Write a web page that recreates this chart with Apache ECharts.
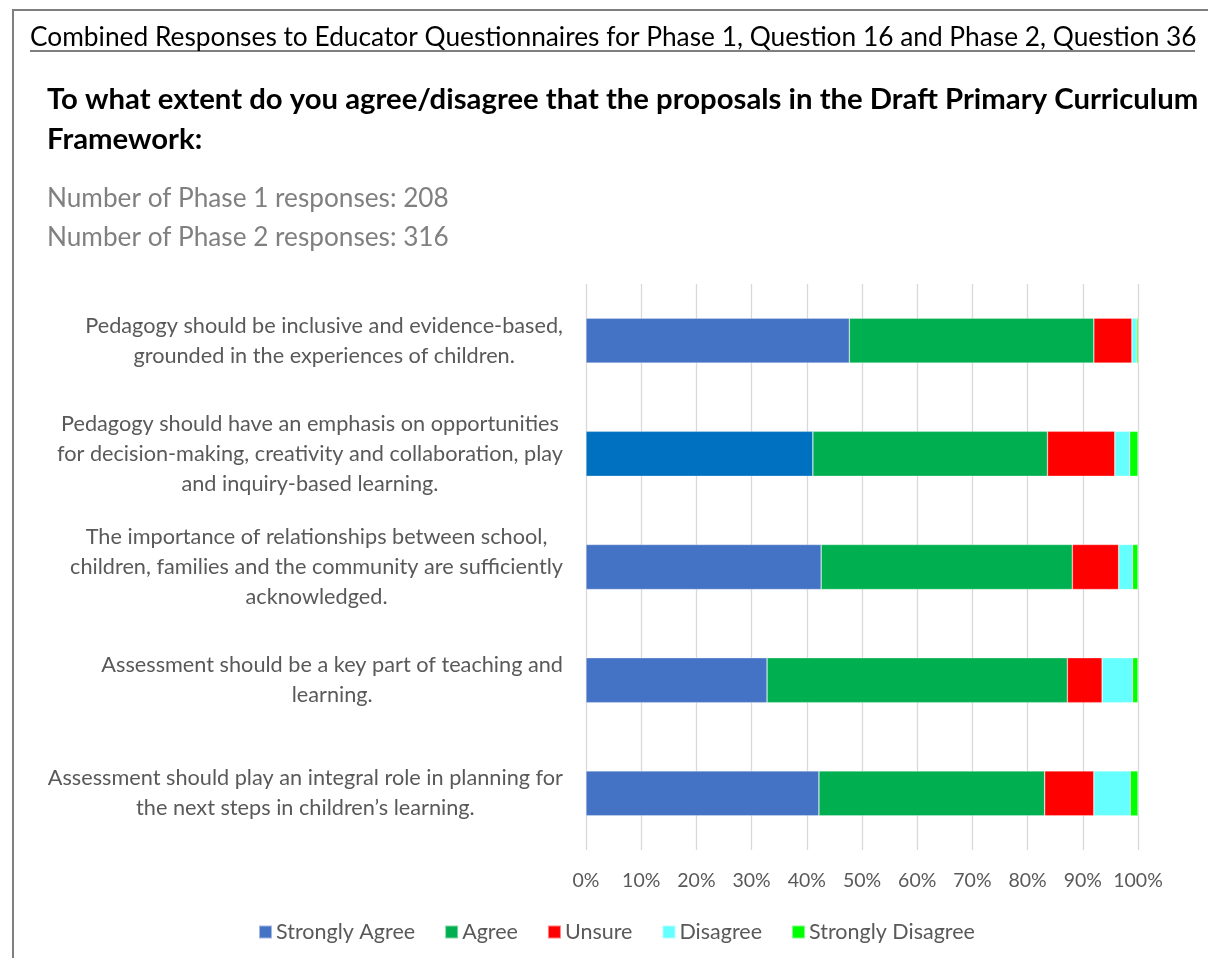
<!DOCTYPE html>
<html>
<head>
<meta charset="utf-8">
<script src="https://cdn.jsdelivr.net/npm/echarts@6/dist/echarts.min.js"></script>
<style>
html,body{margin:0;padding:0;background:#fff;}
#chart{width:1208px;height:958px;}
</style>
</head>
<body>
<div id="chart"></div>
<script>
const categories = [
  "Pedagogy should be inclusive and evidence-based,\ngrounded in the experiences of children.",
  "Pedagogy should have an emphasis on opportunities\nfor decision-making, creativity and collaboration, play\nand inquiry-based learning.",
  "The importance of relationships between school,\nchildren, families and the community are sufficiently\nacknowledged.",
  "Assessment should be a key part of teaching and\nlearning.",
  "Assessment should play an integral role in planning for\nthe next steps in children\u2019s learning."
];
const seriesNames = ["Strongly Agree", "Agree", "Unsure", "Disagree", "Strongly Disagree"];
const stronglyAgree    = [47.7, 41.1, 42.6, 32.8, 42.2];
const agree            = [44.3, 42.5, 45.5, 54.4, 40.9];
const unsure           = [6.9, 12.2, 8.4, 6.3, 8.9];
const disagree         = [0.8, 2.7, 2.5, 5.5, 6.6];
const stronglyDisagree = [0.3, 1.5, 1.0, 1.0, 1.4];
const xTicks = [0, 10, 20, 30, 40, 50, 60, 70, 80, 90, 100];

const FONT = 'Lato';
const colors = ['#4472C4', '#00B050', '#FF0000', '#66FFFF', '#00FF00'];
const allData = [stronglyAgree, agree, unsure, disagree, stronglyDisagree];

const series = seriesNames.map((name, i) => ({
  name: name,
  type: 'bar',
  stack: 'total',
  barWidth: 45,
  itemStyle: { color: colors[i], borderColor: 'rgba(255,255,255,0.5)', borderWidth: 0.6 },
  data: allData[i].map((v, j) => (i === 0 && j === 1) ? { value: v, itemStyle: { color: '#0070C0' } } : v)
}));

function txt(x, y, text, font, fill) {
  return { type: 'text', x: x, y: y, style: { text: text, font: font, fill: fill, verticalAlign: 'middle', align: 'left' } };
}

const chart = echarts.init(document.getElementById('chart'), null, { renderer: 'canvas' });
chart.setOption({
  animation: false,
  backgroundColor: '#fff',
  graphic: [
    { type: 'rect', shape: { x: 13, y: 10, width: 1300, height: 1000 }, style: { fill: 'none', stroke: '#7f7f7f', lineWidth: 2 }, z: 0 },
    txt(30, 38, 'Combined Responses to Educator Questionnaires for Phase 1, Question 16 and Phase 2, Question 36', '26.3px ' + FONT, '#000'),
    { type: 'line', shape: { x1: 30, y1: 51, x2: 1195, y2: 51 }, style: { stroke: '#000', lineWidth: 1.2 } },
    txt(47, 100, 'To what extent do you agree/disagree that the proposals in the Draft Primary Curriculum', 'bold 29.3px ' + FONT, '#000'),
    txt(47, 140, 'Framework:', 'bold 29.3px ' + FONT, '#000'),
    txt(47, 199, 'Number of Phase 1 responses: 208', '26.2px ' + FONT, '#808080'),
    txt(47, 238, 'Number of Phase 2 responses: 316', '26.2px ' + FONT, '#808080')
  ],
  legend: {
    data: seriesNames,
    left: 253,
    top: 916,
    icon: 'rect',
    itemWidth: 13,
    itemHeight: 13,
    itemGap: 29,
    textStyle: { fontFamily: FONT, fontSize: 21.5, color: '#595959', padding: [0, 0, 0, -1] }
  },
  grid: { left: 586, right: 70, top: 284, height: 566, containLabel: false },
  xAxis: {
    type: 'value',
    min: 0,
    max: 100,
    interval: 10,
    axisLine: { show: false },
    axisTick: { show: false },
    splitLine: { show: true, lineStyle: { color: '#d9d9d9', width: 1.3 } },
    axisLabel: { formatter: v => xTicks.includes(v) ? v + '%' : '', fontFamily: FONT, fontSize: 19.5, color: '#595959', margin: 21 }
  },
  yAxis: {
    type: 'category',
    data: categories,
    inverse: true,
    axisLine: { show: false },
    axisTick: { show: false },
    splitLine: { show: false },
    axisLabel: {
      margin: 23,
      align: 'right',
      formatter: v => v.split('\n').map(s => '{c|' + s + '}').join('\n'),
      rich: { c: { align: 'center', fontFamily: FONT, fontSize: 21.7, color: '#595959', lineHeight: 30 } }
    }
  },
  series: series
});
</script>
</body>
</html>
